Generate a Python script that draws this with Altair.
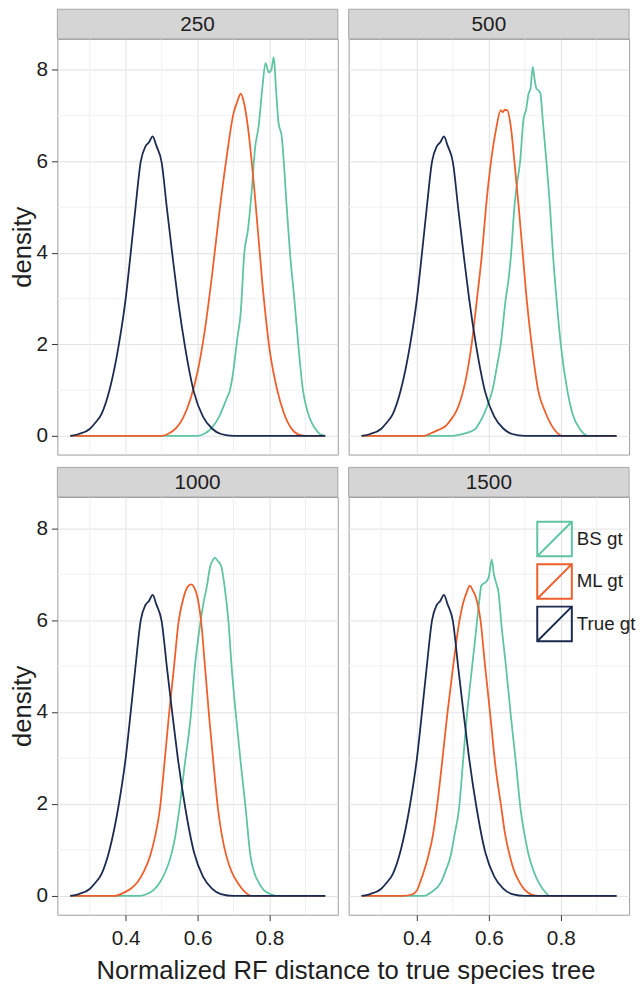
import altair as alt
import pandas as pd

FONT = "Liberation Sans"

PANELS = ["250", "500", "1000", "1500"]
SERIES = ["BS gt", "ML gt", "True gt"]
COLORS = ["#5ec4a2", "#ef5f2b", "#1b2a4f"]

X_MAJOR = [0.4, 0.6, 0.8]
X_MINOR = [0.3, 0.5, 0.7, 0.9]
Y_MAJOR = [0, 2, 4, 6, 8]
Y_MINOR = [1, 3, 5, 7]
X_DOMAIN = [0.21, 0.99]
Y_DOMAIN = [-0.41, 8.68]

# True gene trees (same in every panel)
X_TRUE = [0.246, 0.27, 0.30, 0.315, 0.333, 0.355, 0.38, 0.40, 0.414, 0.427, 0.442, 0.455,
          0.465, 0.475, 0.485, 0.50, 0.515, 0.53, 0.545, 0.565, 0.59, 0.615, 0.64, 0.665, 0.70, 0.955]
Y_TRUE = [0, 0.04, 0.15, 0.28, 0.48, 1.0, 1.95, 3.0, 4.0, 4.97, 6.0, 6.33,
          6.42, 6.55, 6.35, 5.98, 4.95, 3.95, 3.0, 1.95, 0.95, 0.42, 0.16, 0.04, 0, 0]

# 250
X_ML_250 = [0.246, 0.50, 0.52, 0.54, 0.56, 0.58, 0.60, 0.62, 0.64, 0.66, 0.68, 0.70, 0.71, 0.72,
            0.73, 0.74, 0.76, 0.78, 0.80, 0.82, 0.84, 0.86, 0.88, 0.90, 0.955]
Y_ML_250 = [0, 0, 0.05, 0.17, 0.4, 0.8, 1.4, 2.3, 3.5, 4.85, 6.05, 7.05, 7.3, 7.48,
            7.25, 6.75, 5.2, 3.35, 1.9, 1.05, 0.5, 0.17, 0.03, 0, 0]
X_BS_250 = [0.246, 0.60, 0.62, 0.64, 0.66, 0.68, 0.69, 0.70, 0.71, 0.72, 0.73, 0.74, 0.75, 0.76,
            0.77, 0.78, 0.789, 0.798, 0.805, 0.812, 0.818, 0.825, 0.834, 0.848, 0.857, 0.869,
            0.88, 0.893, 0.907, 0.918, 0.929, 0.94, 0.955]
Y_BS_250 = [0, 0, 0.05, 0.18, 0.42, 0.8, 1.0, 1.45, 2.1, 2.7, 4.0, 4.5, 5.3, 6.3,
            6.78, 7.6, 8.15, 7.95, 8.0, 8.28, 7.6, 6.85, 6.55, 5.0, 4.0, 3.0,
            2.0, 1.0, 0.5, 0.28, 0.14, 0.04, 0]

# 500
X_ML_500 = [0.246, 0.42, 0.443, 0.46, 0.479, 0.495, 0.507, 0.52, 0.529, 0.54, 0.552, 0.567, 0.581,
            0.592, 0.606, 0.62, 0.633, 0.638, 0.645, 0.651, 0.662, 0.671, 0.683, 0.694, 0.705,
            0.719, 0.737, 0.758, 0.782, 0.805, 0.955]
Y_ML_500 = [0, 0, 0.07, 0.13, 0.21, 0.36, 0.5, 0.75, 1.0, 1.4, 2.0, 3.0, 4.0,
            5.0, 6.0, 6.7, 7.12, 7.08, 7.13, 7.12, 6.7, 6.0, 5.0, 4.0, 3.0,
            2.0, 1.0, 0.5, 0.14, 0, 0]
X_BS_500 = [0.246, 0.50, 0.516, 0.54, 0.561, 0.575, 0.588, 0.60, 0.61, 0.622, 0.633, 0.647, 0.656,
            0.662, 0.671, 0.678, 0.687, 0.696, 0.704, 0.71, 0.716, 0.722, 0.727, 0.732, 0.738,
            0.743, 0.75, 0.76, 0.77, 0.778, 0.788, 0.80, 0.818, 0.832, 0.854, 0.877, 0.955]
Y_BS_500 = [0, 0, 0.02, 0.07, 0.14, 0.3, 0.5, 0.75, 1.0, 1.5, 2.0, 3.0, 3.5,
            4.0, 5.0, 5.5, 6.0, 6.9, 7.15, 7.47, 7.6, 8.07, 7.8, 7.6, 7.55,
            7.5, 6.9, 6.0, 5.0, 4.0, 3.0, 2.0, 1.0, 0.5, 0.14, 0, 0]

# 1000
X_ML_1000 = [0.246, 0.37, 0.395, 0.415, 0.432, 0.45, 0.468, 0.482, 0.495, 0.508, 0.52, 0.534,
             0.547, 0.562, 0.572, 0.582, 0.59, 0.599, 0.61, 0.621, 0.632, 0.644, 0.657, 0.668,
             0.68, 0.695, 0.711, 0.73, 0.75, 0.955]
Y_ML_1000 = [0, 0, 0.07, 0.16, 0.29, 0.52, 0.87, 1.3, 1.88, 2.9, 3.91, 4.95,
             5.96, 6.52, 6.72, 6.78, 6.72, 6.52, 5.96, 4.95, 3.91, 2.9, 1.88, 1.3,
             0.87, 0.52, 0.29, 0.1, 0, 0]
X_BS_1000 = [0.246, 0.44, 0.459, 0.478, 0.495, 0.51, 0.526, 0.538, 0.549, 0.565, 0.581, 0.592,
             0.608, 0.617, 0.626, 0.635, 0.642, 0.648, 0.655, 0.666, 0.675, 0.686, 0.695, 0.707,
             0.72, 0.734, 0.747, 0.758, 0.77, 0.785, 0.802, 0.82, 0.955]
Y_BS_1000 = [0, 0, 0.04, 0.13, 0.29, 0.52, 0.87, 1.3, 1.88, 2.9, 3.91, 4.95,
             5.96, 6.4, 6.74, 7.17, 7.3, 7.36, 7.3, 7.17, 6.74, 5.96, 4.95, 3.91,
             2.9, 1.88, 0.87, 0.5, 0.29, 0.12, 0.04, 0, 0]

# 1500
X_ML_1500 = [0.246, 0.36, 0.386, 0.40, 0.409, 0.42, 0.432, 0.445, 0.455, 0.47, 0.484, 0.50,
             0.518, 0.529, 0.538, 0.547, 0.555, 0.563, 0.577, 0.59, 0.604, 0.617, 0.635, 0.645,
             0.658, 0.67, 0.685, 0.70, 0.721, 0.74, 0.955]
Y_ML_1500 = [0, 0, 0.03, 0.12, 0.3, 0.55, 0.88, 1.35, 1.9, 2.91, 3.93, 4.96,
             5.98, 6.39, 6.6, 6.75, 6.65, 6.52, 5.98, 4.96, 3.93, 2.91, 1.9, 1.35,
             0.88, 0.55, 0.3, 0.13, 0.02, 0, 0]
X_BS_1500 = [0.246, 0.42, 0.44, 0.467, 0.48, 0.494, 0.505, 0.517, 0.528, 0.539, 0.553, 0.562,
             0.567, 0.573, 0.579, 0.586, 0.592, 0.60, 0.608, 0.614, 0.621, 0.627, 0.634, 0.648,
             0.661, 0.675, 0.688, 0.70, 0.711, 0.724, 0.738, 0.755, 0.77, 0.955]
Y_BS_1500 = [0, 0, 0.08, 0.3, 0.55, 0.88, 1.35, 1.9, 2.91, 3.93, 4.96, 5.6,
             5.98, 6.4, 6.75, 6.8, 6.83, 6.95, 7.32, 7.0, 6.79, 6.6, 5.98, 4.96,
             3.93, 2.91, 1.9, 1.3, 0.88, 0.55, 0.3, 0.1, 0, 0]

CURVES = {
    "250": {"BS gt": (X_BS_250, Y_BS_250), "ML gt": (X_ML_250, Y_ML_250), "True gt": (X_TRUE, Y_TRUE)},
    "500": {"BS gt": (X_BS_500, Y_BS_500), "ML gt": (X_ML_500, Y_ML_500), "True gt": (X_TRUE, Y_TRUE)},
    "1000": {"BS gt": (X_BS_1000, Y_BS_1000), "ML gt": (X_ML_1000, Y_ML_1000), "True gt": (X_TRUE, Y_TRUE)},
    "1500": {"BS gt": (X_BS_1500, Y_BS_1500), "ML gt": (X_ML_1500, Y_ML_1500), "True gt": (X_TRUE, Y_TRUE)},
}

rows = []
for p, series in CURVES.items():
    for s, (xs_, ys_) in series.items():
        for i, (xv, yv) in enumerate(zip(xs_, ys_)):
            rows.append({"panel": p, "series": s, "x": xv, "d": yv, "i": i})
df = pd.DataFrame(rows)

MAJOR_C = "#e2e2e2"
MINOR_C = "#f0f0f0"
TXT = "#1e1e1e"
W = 284
STRIP_H = 30
PLOT_H = {"250": 421, "500": 421, "1000": 423, "1500": 423}

xs = alt.Scale(domain=X_DOMAIN, nice=False, zero=False)
ys = alt.Scale(domain=Y_DOMAIN, nice=False, zero=False)
cs = alt.Scale(domain=SERIES, range=COLORS)

legend = alt.Legend(
    title=None, orient="none", legendX=485, legendY=488, direction="vertical",
    symbolType="M-1,-1H1V1H-1Z M-1,1L1,-1", symbolSize=1225, symbolStrokeWidth=2,
    symbolFillColor="transparent", labelFontSize=19, labelFont=FONT, labelColor=TXT,
    labelOffset=4, rowPadding=0,
)


def panel(p, left, bottom):
    xaxis = alt.Axis(values=X_MAJOR, format=".1f", title=None, grid=True, gridColor=MAJOR_C,
                     labels=bottom, ticks=bottom, tickSize=6, tickColor="#333333", tickWidth=1,
                     labelFontSize=21, labelFont=FONT, labelColor=TXT, labelPadding=7,
                     domain=False, minExtent=0)
    yaxis = alt.Axis(values=Y_MAJOR, format="d", grid=True, gridColor=MAJOR_C,
                     labels=left, ticks=left, tickSize=6, tickColor="#333333", tickWidth=1,
                     labelFontSize=21, labelFont=FONT, labelColor=TXT, labelPadding=4,
                     domain=False, minExtent=0,
                     title="density" if left else "", titleFontSize=26, titleFont=FONT,
                     titleFontWeight="normal", titleColor=TXT, titlePadding=1)
    lab = alt.Data(values=[{"label": p}])
    strip_rect = alt.Chart(lab).mark_rect(fill="#d5d5d5", stroke="#a5a5a5", strokeWidth=1).encode(
        x=alt.value(0), x2=alt.value(W), y=alt.value(-STRIP_H), y2=alt.value(0))
    strip_text = alt.Chart(lab).mark_text(
        font=FONT, fontSize=21, color=TXT, baseline="middle", align="center").encode(
        text="label:N", x=alt.value(W / 2), y=alt.value(-STRIP_H / 2 + 1))
    minor_v = alt.Chart(pd.DataFrame({"x": X_MINOR})).mark_rule(color=MINOR_C, strokeWidth=1).encode(
        x=alt.X("x:Q", scale=xs, axis=xaxis))
    minor_h = alt.Chart(pd.DataFrame({"y": Y_MINOR})).mark_rule(color=MINOR_C, strokeWidth=1).encode(
        y=alt.Y("y:Q", scale=ys, axis=yaxis))
    layers = [minor_v, minor_h]
    base = alt.Chart(df).transform_filter(alt.datum.panel == p)
    for s in SERIES:
        layers.append(
            base.transform_filter(alt.datum.series == s).mark_line(
                strokeWidth=1.8, interpolate="monotone"
            ).encode(
                x=alt.X("x:Q", scale=xs, axis=xaxis),
                y=alt.Y("d:Q", scale=ys, axis=yaxis),
                order=alt.Order("i:Q"),
                color=alt.Color("series:N", scale=cs, legend=legend),
            )
        )
    layers += [strip_rect, strip_text]
    return alt.layer(*layers).properties(width=W, height=PLOT_H[p])


row1 = alt.hconcat(panel("250", True, False), panel("500", False, False), spacing=9)
row2 = alt.hconcat(panel("1000", True, True), panel("1500", False, True), spacing=9)

chart = alt.vconcat(row1, row2, spacing=11).properties(
    padding={"left": 0, "top": -6, "right": 0, "bottom": 0},
    title=alt.TitleParams(
        "Normalized RF distance to true species tree", orient="bottom", anchor="middle",
        frame="bounds", fontSize=26, font=FONT, fontWeight="normal", color=TXT, offset=10, dx=24,
    ),
).configure(font=FONT).configure_view(stroke="#9d9d9d", strokeWidth=1)

chart.save("out.html", embed_options={"renderer": "svg", "actions": False})
